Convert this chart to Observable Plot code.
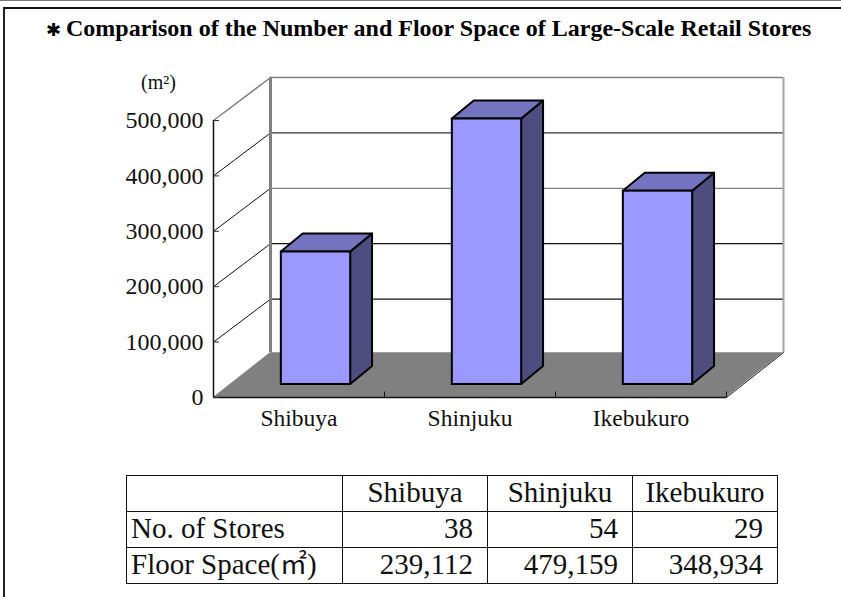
<!DOCTYPE html>
<html>
<head>
<meta charset="utf-8">
<script src="https://cdn.jsdelivr.net/npm/d3@7"></script>
<script src="https://cdn.jsdelivr.net/npm/@observablehq/plot@0.6"></script>
<style>
html,body{margin:0;padding:0;background:#fff;width:841px;height:597px;overflow:hidden;font-family:"Liberation Serif",serif;}
#page{position:relative;width:841px;height:597px;overflow:hidden;}
#ruleTop{position:absolute;left:0;top:0;width:841px;height:1px;background:#777;}
#ruleTop2{position:absolute;left:3px;top:7px;width:838px;height:2px;background:#111;}
#ruleLeft{position:absolute;left:3px;top:7px;width:2px;height:590px;background:#222;}
#title{height:60px;box-sizing:border-box;padding:14px 0 0 46px;font-size:24px;font-weight:bold;line-height:28px;white-space:nowrap;color:#000;}
#title .star{font-family:"DejaVu Sans";font-size:18px;font-weight:bold;display:inline-block;width:20px;}
#chart svg{display:block;overflow:visible;}
table{position:absolute;left:126px;top:475px;border-collapse:collapse;table-layout:fixed;width:651px;font-size:29px;line-height:32px;color:#111;}
td{border:1.5px solid #111;height:36px;padding:0 14px 3px 0;text-align:right;white-space:nowrap;box-sizing:border-box;}
td.head{text-align:center;padding:0 0 3px 0;}
td.row{text-align:left;padding:0 0 3px 4px;}
.cjk{font-family:"Noto Sans CJK JP";font-size:27px;font-weight:400;line-height:28px;}
</style>
</head>
<body>
<div id="page">
<div id="ruleTop"></div><div id="ruleTop2"></div><div id="ruleLeft"></div>
<div id="title"><span class="star">✱</span>Comparison of the Number and Floor Space of Large-Scale Retail Stores</div>
<div id="chart"></div>
<table id="tbl"></table>
</div>
<script>
const districts = ["Shibuya", "Shinjuku", "Ikebukuro"];
const floorSpace = [239112, 479159, 348934];
const storeCount = [38, 54, 29];
const yTicks = [0, 100000, 200000, 300000, 400000, 500000];
const gridColors = ["#808080", "#111", "#111", "#808080", "#333", "#808080"];
const rowLabels = ["No. of Stores", "Floor Space(<span class='cjk'>㎡</span>)"];

// Oblique projection, in scale units
const wallDX = 1 / 3, wallDY = 77600, floorDY = 81000;
const barDX = 0.128, barDY = 32500;
const baseDX = 0.0994, baseDY = 23500;
const barHalf = 0.2027;

const bars = districts.map((name, i) => {
  const x1 = i + 0.5 + baseDX - barHalf, x2 = i + 0.5 + baseDX + barHalf;
  return {name, x1, x2, y1: baseDY, y2: baseDY + floorSpace[i]};
});
const sides = bars.flatMap(b => [
  {z: b.name, x: b.x2, y1: b.y1, y2: b.y2},
  {z: b.name, x: b.x2 + barDX, y1: b.y1 + barDY, y2: b.y2 + barDY}
]);
const tops = bars.flatMap(b => [
  {z: b.name, y: b.y2, x1: b.x1, x2: b.x2},
  {z: b.name, y: b.y2 + barDY, x1: b.x1 + barDX, x2: b.x2 + barDX}
]);
const floor = [{y: 0, x1: 0, x2: 3}, {y: floorDY, x1: wallDX, x2: 3 + wallDX}];
const diagonals = yTicks.flatMap(v => [
  {v, x: 0, y: v},
  {v, x: wallDX, y: v + wallDY}
]);

const chart = Plot.plot({
  width: 841,
  height: 390,
  marginLeft: 0, marginRight: 0, marginTop: 0, marginBottom: 0,
  style: {fontFamily: "Liberation Serif", background: "transparent", overflow: "visible", color: "#111"},
  x: {domain: [0, 3], range: [213, 726], axis: null},
  y: {domain: [0, 500000], range: [337, 60], axis: null},
  marks: [
    Plot.areaX(floor, {y: "y", x1: "x1", x2: "x2", fill: "#808080"}),
    // back-wall grid
    Plot.ruleY(yTicks.slice(1), {y: d => d + wallDY, x1: wallDX, x2: 3 + wallDX,
      stroke: (d, i) => gridColors[i + 1], strokeWidth: 1.3}),
    // side-wall grid
    Plot.line(diagonals.filter(d => d.v > 0), {x: "x", y: "y", z: "v",
      stroke: d => d.v === 500000 ? "#808080" : "#111", strokeWidth: d => d.v === 500000 ? 1.5 : 1}),
    // wall edges
    Plot.ruleX([wallDX], {y1: floorDY, y2: 500000 + wallDY, stroke: "#808080", strokeWidth: 3}),
    Plot.ruleX([3 + wallDX], {y1: floorDY, y2: 500000 + wallDY, stroke: "#a6a6a6", strokeWidth: 2}),
    Plot.line([{x: 3, y: 0}, {x: 3 + wallDX, y: floorDY}], {x: "x", y: "y", stroke: "#222", strokeWidth: 1}),
    // front axes
    Plot.ruleX([0], {y1: 0, y2: 500000, stroke: "#111", strokeWidth: 1.5}),
    Plot.ruleY([0], {x1: 0, x2: 3, stroke: "#111", strokeWidth: 1.5}),
    Plot.ruleX([1, 2, 3], {y1: 0, y2: 10000, stroke: "#111", strokeWidth: 1}),
    Plot.ruleY(yTicks, {x1: 0, x2: 0.035, stroke: "#333", strokeWidth: 1}),
    Plot.axisY({ticks: yTicks, tickFormat: d3.format(","), tickSize: 0, tickPadding: 10, anchor: "left",
      label: null, fontSize: 24, x: 0, color: "#111"}),
    Plot.text(districts, {x: (d, i) => i + 0.5, y: 0, dy: 21, text: d => d, fontSize: 23.5, fill: "#111"}),
    Plot.text(["(m²)"], {x: 0, y: 500000, dx: -55, dy: -38, fontSize: 20, fill: "#111"}),
    // bars
    Plot.areaY(sides, {x: "x", y1: "y1", y2: "y2", z: "z", fill: "#4d4d80", stroke: "#000", strokeWidth: 2}),
    Plot.areaX(tops, {y: "y", x1: "x1", x2: "x2", z: "z", fill: "#7373bf", stroke: "#000", strokeWidth: 2}),
    Plot.rect(bars, {x1: "x1", x2: "x2", y1: "y1", y2: "y2", fill: "#9999ff", stroke: "#000", strokeWidth: 2})
  ]
});
document.getElementById("chart").appendChild(chart);

const fmt = d3.format(",");
const rows = [
  "<tr><td class='head'></td>" + districts.map(d => `<td class='head'>${d}</td>`).join("") + "</tr>",
  `<tr><td class='row'>${rowLabels[0]}</td>` + storeCount.map(v => `<td>${v}</td>`).join("") + "</tr>",
  `<tr><td class='row'>${rowLabels[1]}</td>` + floorSpace.map(v => `<td>${fmt(v)}</td>`).join("") + "</tr>"
];
document.getElementById("tbl").innerHTML =
  "<colgroup><col style='width:216px'><col style='width:145px'><col style='width:145px'><col style='width:145px'></colgroup>" + rows.join("");
</script>
</body>
</html>
